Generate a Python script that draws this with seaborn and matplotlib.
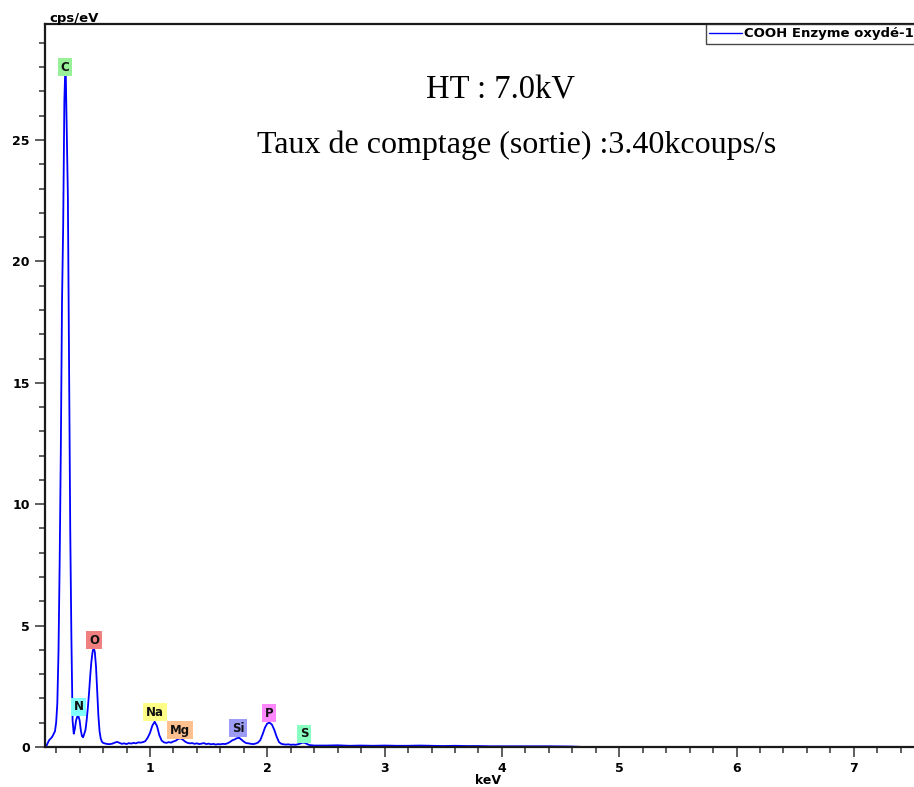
import numpy as np
import pandas as pd
import matplotlib
matplotlib.use("Agg")
import matplotlib.pyplot as plt
from matplotlib.ticker import MultipleLocator, FixedLocator
import seaborn as sns

# EDS spectrum, energy in keV and count rate in cps/eV
energy_keV = [
    0.105, 0.11, 0.12, 0.13, 0.14, 0.15, 0.16, 0.17, 0.18, 0.19,
    0.20, 0.21, 0.22, 0.23, 0.24, 0.25, 0.26, 0.27, 0.28, 0.29,
    0.30, 0.31, 0.32, 0.33, 0.34, 0.35, 0.36, 0.37, 0.38, 0.39,
    0.40, 0.41, 0.42, 0.43, 0.44, 0.45, 0.46, 0.47, 0.48, 0.49,
    0.50, 0.51, 0.52, 0.53, 0.54, 0.55, 0.56, 0.57, 0.58, 0.59,
    0.60, 0.62, 0.64, 0.66, 0.68, 0.70, 0.72, 0.74, 0.76, 0.78,
    0.80, 0.82, 0.84, 0.86, 0.88, 0.90, 0.92, 0.94, 0.96, 0.98,
    1.00, 1.02, 1.04, 1.06, 1.08, 1.10, 1.12, 1.14, 1.16, 1.18,
    1.20, 1.22, 1.24, 1.26, 1.28, 1.30, 1.32, 1.34, 1.36, 1.38,
    1.40, 1.42, 1.44, 1.46, 1.48, 1.50, 1.52, 1.54, 1.56, 1.58,
    1.60, 1.62, 1.64, 1.66, 1.68, 1.70, 1.72, 1.74, 1.76, 1.78,
    1.80, 1.82, 1.84, 1.86, 1.88, 1.90, 1.92, 1.94, 1.96, 1.98,
    2.00, 2.02, 2.04, 2.06, 2.08, 2.10, 2.12, 2.14, 2.16, 2.18,
    2.20, 2.22, 2.24, 2.26, 2.28, 2.30, 2.32, 2.34, 2.36, 2.38,
    2.40, 2.50, 2.60, 2.70, 2.80, 2.90, 3.00, 3.10, 3.20, 3.30,
    3.40, 3.50, 3.60, 3.70, 3.80, 3.90, 4.00, 4.20, 4.40, 4.60,
    4.70, 5.00, 5.50, 6.00, 6.50, 7.00, 7.50,
]
counts_cps = [
    0.00, 0.02, 0.08, 0.18, 0.28, 0.33, 0.38, 0.45, 0.55, 0.65,
    1.00, 1.80, 3.90, 7.60, 12.3, 18.3, 21.5, 26.6, 28.3, 25.5,
    22.7, 15.6, 9.00, 4.50, 1.10, 0.55, 0.75, 1.10, 1.25, 1.27,
    1.10, 0.70, 0.45, 0.40, 0.55, 0.70, 1.10, 1.60, 2.20, 2.90,
    3.50, 3.90, 4.10, 3.90, 3.30, 2.30, 1.30, 0.65, 0.35, 0.22,
    0.17, 0.14, 0.12, 0.12, 0.14, 0.18, 0.21, 0.17, 0.13, 0.15,
    0.12, 0.16, 0.14, 0.17, 0.15, 0.19, 0.18, 0.20, 0.24, 0.38,
    0.58, 0.88, 1.04, 0.86, 0.48, 0.26, 0.19, 0.17, 0.20, 0.18,
    0.23, 0.26, 0.33, 0.36, 0.30, 0.22, 0.17, 0.15, 0.16, 0.13,
    0.15, 0.12, 0.14, 0.16, 0.12, 0.14, 0.11, 0.13, 0.10, 0.12,
    0.11, 0.13, 0.12, 0.15, 0.20, 0.27, 0.31, 0.36, 0.38, 0.30,
    0.22, 0.16, 0.15, 0.13, 0.12, 0.14, 0.18, 0.28, 0.52, 0.80,
    0.97, 1.00, 0.92, 0.70, 0.42, 0.20, 0.13, 0.11, 0.10, 0.11,
    0.09, 0.10, 0.09, 0.11, 0.14, 0.18, 0.17, 0.12, 0.08, 0.07,
    0.06, 0.06, 0.07, 0.05, 0.06, 0.05, 0.06, 0.05, 0.05, 0.06,
    0.05, 0.04, 0.05, 0.04, 0.04, 0.03, 0.03, 0.03, 0.03, 0.02,
    0.00, 0.00, 0.00, 0.00, 0.00, 0.00, 0.00,
]

# Element line labels: symbol, energy (keV), label height (cps/eV), box colour
element_names = ["C", "N", "O", "Na", "Mg", "Si", "P", "S"]
element_energy = [0.275, 0.392, 0.523, 1.043, 1.256, 1.750, 2.015, 2.313]
element_label_y = [28.0, 1.65, 4.40, 1.44, 0.70, 0.78, 1.40, 0.54]
element_colors = ["#98f098", "#80ffff", "#f08080", "#ffff88",
                  "#ffc090", "#9c9cf4", "#ff88ff", "#88ffc0"]

series_name = "COOH Enzyme oxydé-1"

sns.set_style("white")
plt.rcParams["font.family"] = ["DejaVu Sans"]
plt.rcParams["text.color"] = "black"
plt.rcParams["xtick.color"] = "#505050"
plt.rcParams["ytick.color"] = "#505050"
plt.rcParams["xtick.labelcolor"] = "black"
plt.rcParams["ytick.labelcolor"] = "black"
plt.rcParams["axes.labelcolor"] = "black"

W, H = 914, 787
fig = plt.figure(figsize=(W / 100, H / 100), dpi=100)
ax = fig.add_axes([45 / W, 40 / H, (W - 45) / W, 723 / H])

df = pd.DataFrame({"keV": energy_keV, "cps/eV": counts_cps})
sns.lineplot(data=df, x="keV", y="cps/eV", ax=ax, color="#0000ff",
             linewidth=1.3, sort=False, estimator=None, label=series_name)

ax.set_xlim(0.105, 7.513)
ax.set_ylim(0, 29.78)

ax.xaxis.set_major_locator(FixedLocator([1, 2, 3, 4, 5, 6, 7]))
ax.xaxis.set_minor_locator(MultipleLocator(0.2))
ax.yaxis.set_major_locator(MultipleLocator(5))
ax.yaxis.set_minor_locator(MultipleLocator(1))

ax.tick_params(axis="both", which="both", bottom=True, left=True,
               top=False, right=False, direction="out")
ax.tick_params(axis="both", which="major", length=7.5, width=1.3,
               labelsize=9, pad=3.5)
ax.tick_params(axis="both", which="minor", length=4, width=1.3)
ax.tick_params(axis="x", which="major", pad=3)
for lab in ax.get_xticklabels() + ax.get_yticklabels():
    lab.set_fontweight("bold")

for side in ["left", "bottom", "top"]:
    ax.spines[side].set_visible(True)
    ax.spines[side].set_color("#1a1a1a")
    ax.spines[side].set_linewidth(1.6)
ax.spines["right"].set_visible(False)

ax.set_xlabel("keV", fontsize=9, fontweight="bold")
ax.set_ylabel("")
ax.xaxis.set_label_coords((488 - 45) / (W - 45), -34 / 723)
ax.xaxis.label.set_verticalalignment("center")

fig.text(49 / W, (H - 22) / H, "cps/eV", fontsize=9.5, fontweight="bold",
         ha="left", va="baseline")

# Element markers over their peaks
for name, e, yl, c in zip(element_names, element_energy, element_label_y, element_colors):
    ax.text(e, yl, name, ha="center", va="center", fontsize=8.5,
            fontweight="bold", color="#111111",
            bbox=dict(boxstyle="square,pad=0.22", facecolor=c, edgecolor="none"))

# Acquisition info
ax.text((500 - 45) / (W - 45), 1 - (90 - 24) / 723, "HT : 7.0kV",
        transform=ax.transAxes, ha="center", va="center", fontsize=23.5,
        family="Liberation Serif")
ax.text((517 - 45) / (W - 45), 1 - (145 - 24) / 723,
        "Taux de comptage (sortie) :3.40kcoups/s",
        transform=ax.transAxes, ha="center", va="center", fontsize=23,
        family="Liberation Serif")

leg = ax.legend(loc="upper right", bbox_to_anchor=(1.004, 1.0),
                borderaxespad=0, frameon=True, fancybox=False,
                handlelength=2.5, handletextpad=0.2, borderpad=0.25,
                prop=dict(size=9.5, weight="bold"))
leg.get_frame().set_edgecolor("#1a1a1a")
leg.get_frame().set_linewidth(1.0)
for line in leg.get_lines():
    line.set_linewidth(1.0)

fig.savefig("out.png", dpi=100)
